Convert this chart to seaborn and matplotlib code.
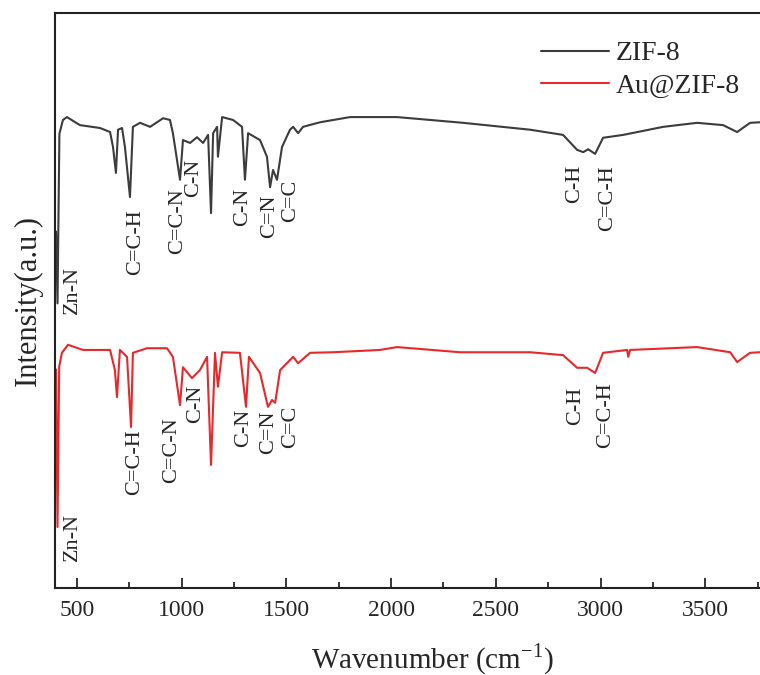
"""
FTIR spectra of ZIF-8 and Au@ZIF-8 (re-drawn figure).
Run: python plot.py  -> out.png
"""

import pandas as pd
import matplotlib.pyplot as plt
import seaborn as sns

# ZIF-8 spectrum (wavenumber cm-1, intensity a.u.)
zif8_wn = [400, 407, 416, 433, 452, 514, 610, 658, 672, 686, 696, 715, 729, 753, 767,
           801, 849, 911, 944, 958, 992, 1006, 1040, 1073, 1102, 1126, 1140, 1150,
           1169, 1173, 1193, 1245, 1288, 1302, 1317, 1374, 1407, 1422, 1436, 1455,
           1479, 1517, 1532, 1556, 1579, 1661, 1804, 1947, 2028, 2344, 2664, 2821,
           2888, 2917, 2941, 2974, 3012, 3108, 3299, 3461, 3585, 3652, 3714, 3762,
           3900, 4000]
zif8_int = [62.0, 49.5, 79.0, 81.4, 81.9, 80.5, 80.0, 79.3, 76.7, 72.2, 79.7, 80.0, 76.7,
            68.0, 80.2, 80.9, 80.2, 81.7, 81.4, 79.1, 71.0, 77.9, 77.4, 78.4, 77.4,
            78.8, 65.2, 79.1, 80.2, 75.0, 81.9, 81.4, 80.2, 71.0, 79.1, 77.9, 75.0,
            69.7, 72.7, 71.0, 76.7, 79.7, 80.2, 79.1, 80.2, 81.0, 81.9, 81.9, 81.9,
            80.9, 79.7, 78.8, 76.2, 75.8, 76.3, 75.5, 78.3, 78.8, 80.2, 80.9, 80.5,
            79.3, 80.9, 81.0, 81.2, 81.3]

# Au@ZIF-8 spectrum
au_wn = [400, 407, 415, 428, 457, 529, 658, 681, 691, 705, 739, 758, 767, 834, 930,
         958, 992, 1006, 1049, 1087, 1121, 1140, 1159, 1173, 1193, 1278, 1307, 1321,
         1374, 1412, 1431, 1446, 1470, 1532, 1556, 1613, 1723, 1947, 2028, 2329,
         2664, 2821, 2888, 2936, 2974, 3012, 3127, 3132, 3141, 3461, 3619, 3652,
         3714, 3762, 3900, 4000]
au_int = [38.0, 10.6, 38.5, 40.9, 42.3, 41.4, 41.4, 37.9, 33.2, 41.4, 40.2, 28.0, 40.9,
          41.7, 41.7, 40.2, 31.8, 38.4, 36.5, 37.9, 40.2, 21.4, 40.9, 35.0, 41.0,
          40.9, 31.5, 40.2, 37.4, 31.5, 32.7, 32.2, 37.9, 40.2, 39.1, 40.9, 41.0,
          41.4, 41.9, 41.0, 41.0, 40.5, 38.3, 38.3, 37.4, 40.9, 41.4, 40.2, 41.4,
          41.9, 41.0, 39.3, 40.9, 41.0, 41.2, 41.2]

# band assignments and where their labels sit
band_labels = ["Zn-N", "C=C-H", "C=C-N", "C-N", "C-N", "C=N", "C=C", "C-H", "C=C-H"]
zif8_label_wn = [476, 782, 982, 1059, 1293, 1422, 1522, 2874, 3036]
zif8_label_y = [51.8, 60.2, 63.8, 71.3, 66.3, 64.7, 67.3, 70.3, 67.8]
au_label_wn = [476, 777, 954, 1068, 1298, 1417, 1522, 2883, 3022]
au_label_y = [8.9, 21.9, 24.0, 32.0, 27.8, 27.0, 28.0, 31.7, 30.1]

samples = ["ZIF-8", "Au@ZIF-8"]
colors = {"ZIF-8": "#3c3c3c", "Au@ZIF-8": "#e8282b"}

df = pd.concat([
    pd.DataFrame({"Wavenumber": zif8_wn, "Intensity": zif8_int, "Sample": "ZIF-8"}),
    pd.DataFrame({"Wavenumber": au_wn, "Intensity": au_int, "Sample": "Au@ZIF-8"}),
], ignore_index=True)

sns.set_theme(style="ticks")
plt.rcParams["font.family"] = ["Liberation Serif", "DejaVu Serif"]
plt.rcParams["mathtext.fontset"] = "custom"
plt.rcParams["mathtext.rm"] = "Liberation Serif"

fig = plt.figure(figsize=(7.6, 6.75), dpi=100)
# right edge of the frame is cut off in the original picture
ax = fig.add_axes([55 / 760, 87 / 675, 755 / 760, 575 / 675])

sns.lineplot(data=df, x="Wavenumber", y="Intensity", hue="Sample", hue_order=samples,
             palette=colors, estimator=None, sort=False, linewidth=1.5, ax=ax)

for txt, x, y in zip(band_labels, zif8_label_wn, zif8_label_y):
    ax.text(x, y, txt, rotation=90, ha="center", va="center", fontsize=16)
for txt, x, y in zip(band_labels, au_label_wn, au_label_y):
    ax.text(x, y, txt, rotation=90, ha="center", va="center", fontsize=16)

ax.set_xlim(395, 4000)
ax.set_ylim(0, 100)
ax.set_xticks([500, 1000, 1500, 2000, 2500, 3000, 3500])
ax.set_xticks([750, 1250, 1750, 2250, 2750, 3250, 3750], minor=True)
ax.set_yticks([])
ax.tick_params(axis="x", which="major", direction="in", length=7, width=1.3,
               labelsize=17, pad=9)
ax.tick_params(axis="x", which="minor", direction="in", length=4, width=1.3)
for side in ["left", "bottom", "top", "right"]:
    ax.spines[side].set_visible(True)
    ax.spines[side].set_linewidth(1.5)
    ax.spines[side].set_color("#222222")

ax.set_xlabel("Wavenumber (cm$^{\\mathrm{-1}}$)", fontsize=21, labelpad=14)
ax.set_ylabel("Intensity(a.u.)", fontsize=22, labelpad=9)

ax.legend(loc="upper left", bbox_to_anchor=(541 / 760, 1 - 41 / 675),
          bbox_transform=fig.transFigure, frameon=False, fontsize=20,
          handlelength=2.45, handletextpad=0.25, labelspacing=0.25, borderpad=0,
          borderaxespad=0)

fig.savefig("out.png", dpi=100)
